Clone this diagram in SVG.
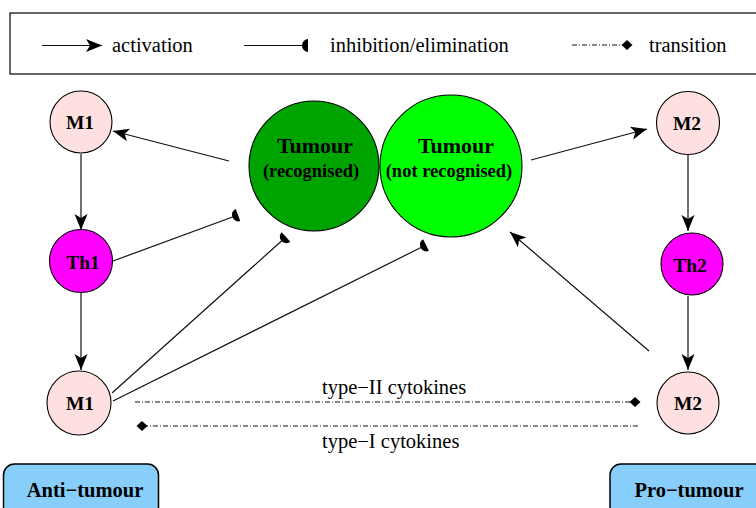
<svg xmlns="http://www.w3.org/2000/svg" width="756" height="508" viewBox="0 0 756 508" font-family="'Liberation Serif', 'Times New Roman', 'DejaVu Serif', serif">
<style>
.ln{stroke:#111;stroke-width:1.2;fill:none}
.act{marker-end:url(#arr)}
.inh{marker-end:url(#inh)}
.tr{stroke-dasharray:5 2 1 2}
.trd{marker-end:url(#dia)}
.node{stroke:#000;stroke-width:1.1}
.m{fill:#ffe0e0}
.th{fill:#ff00ff}
.lbl{font-weight:bold;fill:#000;text-anchor:middle}
.txt{font-size:20.5px;fill:#000}
.box{fill:#87cefa;stroke:#000;stroke-width:1.5}
</style>
<defs>
<marker id="arr" markerUnits="userSpaceOnUse" viewBox="-17 -7 18 14" refX="0" refY="0" markerWidth="18" markerHeight="14" orient="auto">
<path d="M0,0 L-16,-6.5 L-12,0 L-16,6.5 Z" fill="#000"/>
</marker>
<marker id="inh" markerUnits="userSpaceOnUse" viewBox="-8 -8 9 16" refX="0" refY="0" markerWidth="9" markerHeight="16" orient="auto">
<path d="M0,-6.5 A6,6.5 0 0 0 0,6.5 Z" fill="#000"/>
</marker>
<marker id="dia" markerUnits="userSpaceOnUse" viewBox="-7 -7 14 14" refX="0" refY="0" markerWidth="14" markerHeight="14" orient="auto">
<path d="M-5.5,0 L0,-5 L5.5,0 L0,5 Z" fill="#000"/>
</marker>
</defs>

<g id="legend">
<rect x="10" y="13" width="760" height="61" fill="#fff" stroke="#000" stroke-width="1.2"/>
<line class="ln act" x1="42" y1="45.5" x2="102" y2="45.5"/>
<text class="txt" x="112" y="52">activation</text>
<line class="ln inh" x1="244" y1="45.5" x2="308" y2="45.5"/>
<text class="txt" x="330" y="52">inhibition/elimination</text>
<line class="ln tr trd" x1="572" y1="45" x2="627" y2="45"/>
<text class="txt" x="649" y="52">transition</text>
</g>

<g id="connectors">
<line class="ln act" x1="229" y1="161" x2="113" y2="131"/>
<line class="ln act" x1="81" y1="154" x2="81" y2="230"/>
<line class="ln inh" x1="113" y1="261" x2="238" y2="215"/>
<line class="ln act" x1="81" y1="293" x2="81" y2="370"/>
<line class="ln inh" x1="112" y1="393" x2="286" y2="237"/>
<line class="ln inh" x1="113" y1="401" x2="426" y2="245"/>
<line class="ln act" x1="531" y1="160" x2="647" y2="129"/>
<line class="ln act" x1="688" y1="155" x2="688" y2="231"/>
<line class="ln act" x1="688" y1="296" x2="688" y2="370"/>
<line class="ln act" x1="649" y1="351" x2="510" y2="232"/>
<line class="ln tr trd" x1="135" y1="402" x2="635" y2="402"/>
<line class="ln tr trd" x1="638" y1="426" x2="142" y2="426"/>
<text class="txt" x="322" y="394">type−II cytokines</text>
<text class="txt" x="322" y="448">type−I cytokines</text>
</g>

<g id="tumour-recognised">
<circle class="node" cx="314" cy="166" r="65" fill="#00a400"/>
<text class="lbl" x="315" y="153" font-size="22">Tumour</text>
<text class="lbl" x="311" y="177" font-size="18.5">(recognised)</text>
</g>
<g id="tumour-not-recognised">
<circle class="node" cx="451" cy="166" r="71" fill="#00ff00"/>
<text class="lbl" x="456" y="153" font-size="22">Tumour</text>
<text class="lbl" x="449" y="177" font-size="18.5">(not recognised)</text>
</g>

<g id="M1-top">
<circle class="node m" cx="81" cy="122" r="31"/>
<text class="lbl" x="80" y="129" font-size="19.5">M1</text>
</g>
<g id="Th1">
<circle class="node th" cx="81" cy="261" r="31.5"/>
<text class="lbl" x="83" y="269" font-size="19.5">Th1</text>
</g>
<g id="M1-bottom">
<circle class="node m" cx="79" cy="403" r="32"/>
<text class="lbl" x="80" y="410" font-size="19.5">M1</text>
</g>
<g id="M2-top">
<circle class="node m" cx="688" cy="123" r="31.5"/>
<text class="lbl" x="687" y="130" font-size="19.5">M2</text>
</g>
<g id="Th2">
<circle class="node th" cx="692" cy="264" r="31"/>
<text class="lbl" x="690" y="272" font-size="19.5">Th2</text>
</g>
<g id="M2-bottom">
<circle class="node m" cx="688" cy="403" r="31"/>
<text class="lbl" x="688" y="410" font-size="19.5">M2</text>
</g>

<g id="anti-tumour">
<rect class="box" x="3.5" y="464" width="155" height="60" rx="11" ry="11"/>
<text class="lbl" x="85" y="497" font-size="20.5">Anti−tumour</text>
</g>
<g id="pro-tumour">
<rect class="box" x="610" y="464" width="160" height="60" rx="11" ry="11"/>
<text class="lbl" x="689" y="497" font-size="20.5">Pro−tumour</text>
</g>
</svg>
